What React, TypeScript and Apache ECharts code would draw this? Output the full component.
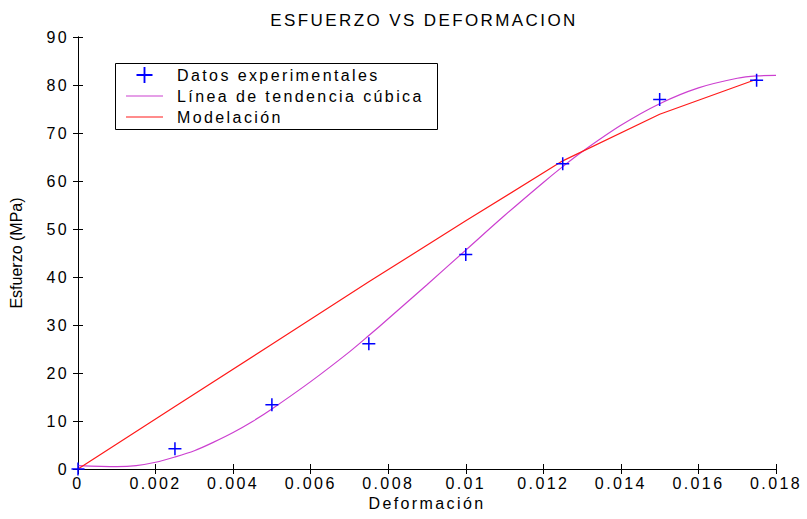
import React, { useEffect, useRef } from "react";
import * as echarts from "echarts";

const TITLE = "ESFUERZO VS DEFORMACION";
const X_NAME = "Deformación";
const Y_NAME = "Esfuerzo (MPa)";
const SERIES_NAMES = ["Datos experimentales", "Línea de tendencia cúbica", "Modelación"];

const X_MIN = 0;
const X_MAX = 0.018;
const X_STEP = 0.002;
const Y_MIN = 0;
const Y_MAX = 90;
const Y_STEP = 10;

// Datos experimentales
const expStrain = [0, 0.0025, 0.005, 0.0075, 0.01, 0.0125, 0.015, 0.0175];
const expStress = [0, 4.2, 13.4, 26.1, 44.7, 63.6, 77.0, 81.0];

// Línea de tendencia cúbica
const trendStrain = [
  0, 0.001, 0.0015, 0.002, 0.0025, 0.003, 0.0035, 0.004, 0.0045, 0.005, 0.006, 0.007,
  0.0075, 0.008, 0.009, 0.01, 0.011, 0.012, 0.0125, 0.013, 0.014, 0.015, 0.016, 0.017,
  0.0175, 0.018,
];
const trendStress = [
  0.7, 0.5, 0.7, 1.4, 2.5, 3.8, 5.6, 7.6, 9.9, 12.5, 18.2, 24.4, 27.8, 31.3, 38.4, 45.6,
  52.8, 59.7, 63.0, 66.1, 71.6, 76.1, 79.4, 81.4, 81.9, 82.0,
];

// Modelación
const modelStrain = [0, 0.0025, 0.005, 0.0075, 0.01, 0.0125, 0.015, 0.0175];
const modelStress = [0, 13.0, 26.0, 39.0, 51.7, 64.2, 73.9, 81.2];

const FONT = "'Liberation Sans', Arial, sans-serif";
const CROSS =
  "path://M5.3,0 L6.7,0 L6.7,5.3 L12,5.3 L12,6.7 L6.7,6.7 L6.7,12 L5.3,12 L5.3,6.7 L0,6.7 L0,5.3 L5.3,5.3 Z";
const LINE_ICON = "path://M0,0 L37,0 L37,1.2 L0,1.2 Z";

const MAGENTA = "#cc40d0";
const RED = "#ff1a1a";
const BLUE = "#0000ff";

const zip = (xs: number[], ys: number[]) => xs.map((x, i) => [x, ys[i]]);

export default function App() {
  const ref = useRef<HTMLDivElement>(null);

  useEffect(() => {
    if (!ref.current) return;
    const chart = echarts.init(ref.current, undefined, { renderer: "svg" });
    const axisCommon = {
      axisLine: { show: true, lineStyle: { color: "#000", width: 1 } },
      axisTick: { show: true, inside: true, length: 5, lineStyle: { color: "#000", width: 1 } },
      splitLine: { show: false },
    };
    chart.setOption({
      animation: false,
      backgroundColor: "#fff",
      textStyle: { fontFamily: FONT },
      title: {
        text: TITLE,
        left: 424,
        top: 12,
        padding: 0,
        textAlign: "center",
        textStyle: { fontFamily: FONT, fontSize: 17, fontWeight: "normal", color: "#000" },
      },
      legend: {
        left: 115,
        top: 63,
        orient: "vertical",
        padding: [4, 0, 0, 11],
        itemWidth: 37,
        itemHeight: 16,
        itemGap: 5,
        selectedMode: false,
        textStyle: { fontFamily: FONT, fontSize: 16, color: "#000", padding: [0, 0, 0, 9] },
        data: [
          { name: SERIES_NAMES[0] },
          { name: SERIES_NAMES[1], icon: LINE_ICON, itemStyle: { color: MAGENTA } },
          { name: SERIES_NAMES[2], icon: LINE_ICON, itemStyle: { color: RED } },
        ],
      },
      graphic: [
        {
          type: "rect",
          x: 115.5,
          y: 63.5,
          shape: { x: 0, y: 0, width: 322, height: 66 },
          style: { fill: "none", stroke: "#000", lineWidth: 1 },
          silent: true,
        },
      ],
      grid: { left: 72, right: 31, top: 37, bottom: 50, containLabel: false },
      xAxis: [
        {
          type: "value",
          min: X_MIN,
          max: X_MAX,
          interval: X_STEP,
          position: "bottom",
          name: X_NAME,
          nameLocation: "middle",
          nameGap: 24,
          nameTextStyle: { fontFamily: FONT, fontSize: 16, color: "#000" },
          axisLabel: {
            margin: 6,
            fontFamily: FONT,
            fontSize: 16,
            color: "#000",
            formatter: (v: number) => (v === 0 ? "0" : String(+v.toFixed(4))),
          },
          ...axisCommon,
        },
        {
          type: "value",
          min: X_MIN,
          max: X_MAX,
          interval: X_STEP,
          position: "top",
          axisLabel: { show: false },
          ...axisCommon,
        },
      ],
      yAxis: [
        {
          type: "value",
          min: Y_MIN,
          max: Y_MAX,
          interval: Y_STEP,
          position: "left",
          name: Y_NAME,
          nameLocation: "middle",
          nameRotate: 90,
          nameGap: 54,
          nameTextStyle: { fontFamily: FONT, fontSize: 16, color: "#000" },
          axisLabel: { margin: 9, fontFamily: FONT, fontSize: 16, color: "#000" },
          ...axisCommon,
        },
        {
          type: "value",
          min: Y_MIN,
          max: Y_MAX,
          interval: Y_STEP,
          position: "right",
          axisLabel: { show: false },
          ...axisCommon,
        },
      ],
      series: [
        {
          name: SERIES_NAMES[0],
          type: "scatter",
          symbol: CROSS,
          symbolSize: 13,
          itemStyle: { color: BLUE, opacity: 1 },
          data: zip(expStrain, expStress),
          z: 3,
        },
        {
          name: SERIES_NAMES[1],
          type: "line",
          showSymbol: false,
          symbol: "none",
          smooth: 0.3,
          lineStyle: { color: MAGENTA, width: 1.2 },
          itemStyle: { color: MAGENTA },
          data: zip(trendStrain, trendStress),
          z: 2,
        },
        {
          name: SERIES_NAMES[2],
          type: "line",
          showSymbol: false,
          symbol: "none",
          lineStyle: { color: RED, width: 1.2 },
          itemStyle: { color: RED },
          data: zip(modelStrain, modelStress),
          z: 2,
        },
      ],
    });
    return () => chart.dispose();
  }, []);

  return (
    <>
      <style>{`
        #chart-host text { letter-spacing: 2.4px; }
        #chart-host text[transform^="matrix"] { letter-spacing: 0; }
      `}</style>
      <div
        id="chart-host"
        ref={ref}
        style={{ position: "fixed", left: 0, top: 0, width: 807, height: 519, background: "#fff" }}
      />
    </>
  );
}
